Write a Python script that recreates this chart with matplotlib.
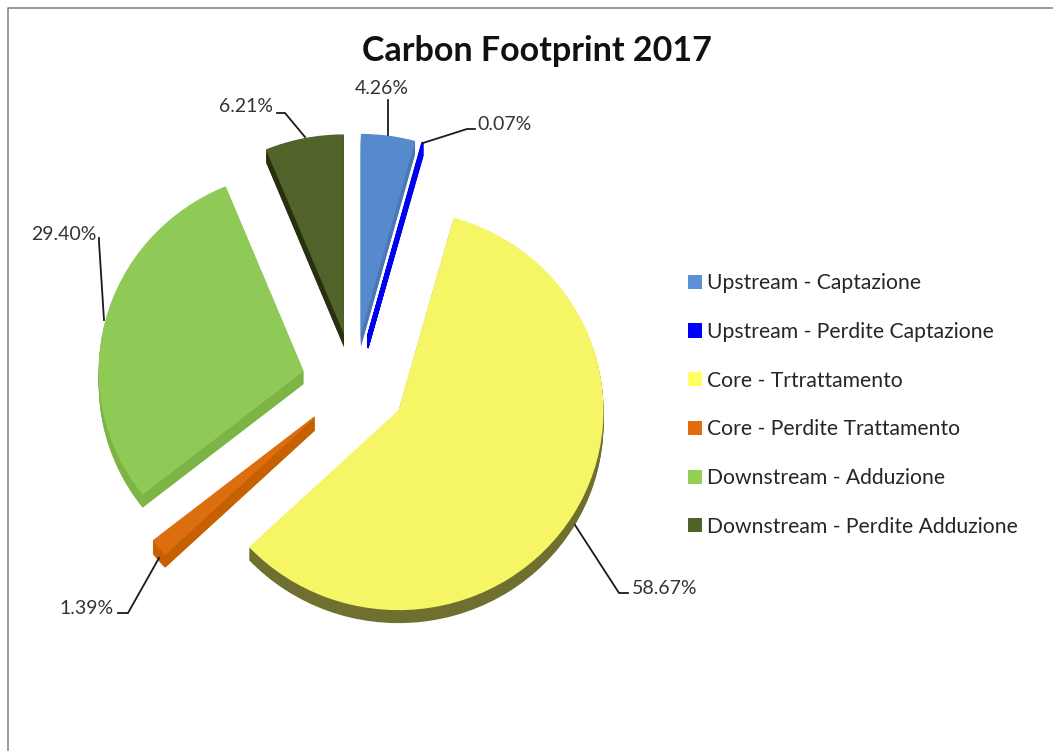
import matplotlib
matplotlib.use('Agg')
import matplotlib.pyplot as plt
from matplotlib.patches import Patch

plt.rcParams['font.family'] = ['Lato', 'DejaVu Sans']

categories = ['Upstream - Captazione', 'Upstream - Perdite Captazione', 'Core - Trtrattamento',
              'Core - Perdite Trattamento', 'Downstream - Adduzione', 'Downstream - Perdite Adduzione']
shares = [4.26, 0.07, 58.67, 1.39, 29.40, 6.21]
share_labels = ['4.26%', '0.07%', '58.67%', '1.39%', '29.40%', '6.21%']

top_colors = ['#578ACD', '#0000F0', '#F6F566', '#DD6E10', '#8FCA56', '#52622B']
side_colors = ['#4A78B4', '#0000F0', '#6F7030', '#C66000', '#7CB445', '#27300F']
legend_colors = ['#5B90D8', '#0000FF', '#FFFF66', '#E46C0A', '#92D050', '#4F6228']

W, H = 1053, 751
squash = 0.975
center = (354, 384 / squash)
radius = 205
explode = [52] * len(shares)  # pie takes this in data units
depth = 13
thin_slices = [1, 3]  # too narrow near the tip, need an outline to stay visible

fig = plt.figure(figsize=(W / 100, H / 100), dpi=100, facecolor='white')

# pie axes: y is inverted, so counterclock here reads clockwise from the top
ax = fig.add_axes([0, 0, 1, 1])
for dy in range(depth, 0, -1):
    side, _ = ax.pie(shares, explode=explode, colors=side_colors, startangle=-90, radius=radius,
                     center=(center[0], center[1] + dy / squash), frame=True)
    for i in thin_slices:
        side[i].set(edgecolor=side_colors[i], linewidth=1.0)
wedges, _ = ax.pie(shares, explode=explode, colors=top_colors, startangle=-90, radius=radius,
                   center=center, frame=True)
for i in thin_slices:
    wedges[i].set(edgecolor=top_colors[i], linewidth=1.0)
ax.set_aspect('auto')
ax.set_xlim(0, W)
ax.set_ylim(H / squash, 0)
ax.axis('off')

# overlay in pixel coordinates for frame, leaders and labels
over = fig.add_axes([0, 0, 1, 1], facecolor='none')
over.set_xlim(0, W)
over.set_ylim(H, 0)
over.axis('off')

over.plot([8, 8, W], [H, 8, 8], color='#7F7F7F', lw=1.1)

leaders = {
    '4.26%': ([388, 388], [135, 100]),
    '0.07%': ([423, 467, 475], [143, 129, 129]),
    '58.67%': ([575, 619, 628], [525, 593, 593]),
    '1.39%': ([159, 128, 118], [558, 613, 613]),
    '29.40%': ([104, 99, 99], [320, 242, 238]),
    '6.21%': ([305, 285, 277], [137, 113, 113]),
}
label_pos = {
    '4.26%': (382, 88, 'center'),
    '0.07%': (477, 124, 'left'),
    '58.67%': (632, 588, 'left'),
    '1.39%': (114, 608, 'right'),
    '29.40%': (97, 234, 'right'),
    '6.21%': (273, 107, 'right'),
}
for lab in share_labels:
    xs, ys = leaders[lab]
    over.plot(xs, ys, color='#1A1A1A', lw=1.3)
    x, y, ha = label_pos[lab]
    over.text(x, y, lab, ha=ha, va='center', fontsize=14, color='#333333')

over.text(537, 51, 'Carbon Footprint 2017', ha='center', va='center', fontsize=24.5,
          fontweight='bold', color='#111111')

handles = [Patch(facecolor=c, edgecolor='none') for c in legend_colors]
leg = over.legend(handles, categories, loc='center left', bbox_to_anchor=(669 / W, 1 - 405 / H),
                  frameon=False, fontsize=15.2, labelspacing=1.36, handlelength=0.65,
                  handleheight=0.65, handletextpad=0.25, labelcolor='#262626')

fig.savefig('out.png', dpi=100)
